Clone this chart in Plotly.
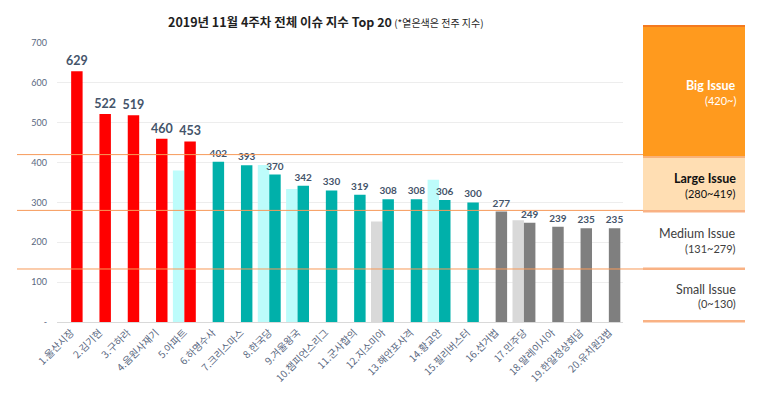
import plotly.graph_objects as go

categories = ["1.울산시장", "2.김기현", "3.구하라", "4.음원사재기", "5.아파트",
              "6.하명수사", "7.크리스마스", "8.한국당", "9.겨울왕국", "10.챔피언스리그",
              "11.군사합의", "12.지소미아", "13.해안포사격", "14.황교안", "15.필리버스터",
              "16.선거법", "17.민주당", "18.말레이시아", "19.한일정상회담", "20.유치원3법"]
current = [629, 522, 519, 460, 453, 402, 393, 370, 342, 330,
           319, 308, 308, 306, 300, 277, 249, 239, 235, 235]
previous = [None, None, None, None, 380, None, None, 394, 334, None,
            None, 252, None, 357, None, None, 255, None, None, None]
y_ticks = [0, 100, 200, 300, 400, 500, 600, 700]
y_ticktext = ["-", "100", "200", "300", "400", "500", "600", "700"]
thresholds = [420, 280, 133]

RED = "#FF0000"
TEAL = "#00B0AA"
GRAY = "#7F7F7F"
LCYAN = "#BDFCFB"
LGRAY = "#D9D9D9"


def cur_color(v):
    if v >= 420:
        return RED
    if v >= 280:
        return TEAL
    return GRAY


def prev_color(v):
    if v is None:
        return LGRAY
    if v >= 280:
        return LCYAN
    return LGRAY


# page body has an 8px default margin; design in reference pixels and offset
OFF = 8
W, H = 773 - OFF, 397 - OFF
L, R, T, B = 57 - OFF, 623 - OFF, 43 - OFF, 322.3 - OFF


def px(x):
    return (x - OFF - L) / (R - L)


def py(y):
    return (B - (y - OFF)) / (B - T)


KFONT = "Noto Sans CJK KR"
NFONT = "Lato, Noto Sans CJK KR"
LABEL_COLOR = "#44546A"

fig = go.Figure()
fig.add_trace(go.Bar(
    x=categories, y=previous, name="전주",
    marker=dict(color=[prev_color(v) for v in previous], line=dict(width=0)),
    hoverinfo="skip",
))
fig.add_trace(go.Bar(
    x=categories, y=current, name="이번주",
    marker=dict(color=[cur_color(v) for v in current], line=dict(width=0)),
    text=[str(v) for v in current],
    textposition="outside",
    textangle=0,
    constraintext="none",
    cliponaxis=False,
    textfont=dict(family=NFONT, color=LABEL_COLOR,
                  size=[12.5 if v >= 420 else 10 for v in current],
                  weight="bold"),
))

shapes = []
for t in thresholds:
    shapes.append(dict(type="line", xref="paper", yref="y",
                       x0=px(17), x1=px(645), y0=t, y1=t,
                       line=dict(color="#F79A5A", width=1), layer="above"))
shapes.append(dict(type="rect", xref="paper", yref="paper",
                   x0=px(643), x1=px(745), y0=py(157), y1=py(25),
                   fillcolor="#FF9A1E", line=dict(width=0), layer="above"))
shapes.append(dict(type="line", xref="paper", yref="paper",
                   x0=px(643), x1=px(745), y0=py(26), y1=py(26),
                   line=dict(color="#F47A1F", width=2)))
shapes.append(dict(type="rect", xref="paper", yref="paper",
                   x0=px(643), x1=px(745), y0=py(211), y1=py(157),
                   fillcolor="#FFDEB3", line=dict(width=0), layer="above"))
shapes.append(dict(type="line", xref="paper", yref="paper",
                   x0=px(643), x1=px(745), y0=py(157), y1=py(157),
                   line=dict(color="#F9B27A", width=2)))
for yy in [211.5, 269, 321.5]:
    shapes.append(dict(type="line", xref="paper", yref="paper",
                       x0=px(643), x1=px(745), y0=py(yy), y1=py(yy),
                       line=dict(color="#F9B284", width=2.5)))

annotations = [
    dict(xref="paper", yref="paper", x=px(166), y=py(21), xanchor="left", yanchor="middle",
         showarrow=False,
         text="<b>2019년 11월 4주차 전체 이슈 지수 Top 20</b>"
              "<span style='font-size:10px'> (*옅은색은 전주 지수)</span>",
         font=dict(family=KFONT, size=12.5, color="#1F1F1F")),
]
panel_texts = [
    ("Big Issue", 85.5, "white", True),
    ("(420~)", 100.5, "white", False),
    ("Large Issue", 178.5, "#111111", True),
    ("(280~419)", 193.5, "#111111", False),
    ("Medium Issue", 233.5, "#404040", False),
    ("(131~279)", 248.5, "#404040", False),
    ("Small Issue", 289.5, "#404040", False),
    ("(0~130)", 304, "#404040", False),
]
for txt, yy, col, bold in panel_texts:
    annotations.append(dict(
        xref="paper", yref="paper", x=px(738), y=py(yy),
        xanchor="right", yanchor="middle", showarrow=False,
        text=f"<b>{txt}</b>" if bold else txt,
        font=dict(family=NFONT, size=12.5 if txt[0] != "(" else 11, color=col)))

fig.update_layout(
    width=W, height=H,
    margin=dict(l=L, r=W - R, t=T, b=H - B, pad=0, autoexpand=False),
    paper_bgcolor="white", plot_bgcolor="white",
    barmode="group", bargap=0.19, bargroupgap=0,
    showlegend=False,
    shapes=shapes,
    annotations=annotations,
    font=dict(family=KFONT),
    xaxis=dict(
        tickangle=-45, tickfont=dict(family=KFONT, size=10, color="#596780"),
        showgrid=False, showline=True, linecolor="#D9D9D9", linewidth=1,
        ticks="", fixedrange=True, automargin=False,
    ),
    yaxis=dict(
        range=[0, 700], tickvals=y_ticks, ticktext=y_ticktext,
        tickfont=dict(family=NFONT, size=9, color="#596780"),
        showgrid=True, gridcolor="#EDEDED", gridwidth=1,
        zeroline=False, showline=False, ticks="", ticklabelstandoff=9,
        fixedrange=True, automargin=False,
    ),
)

fig.write_html("out.html")
